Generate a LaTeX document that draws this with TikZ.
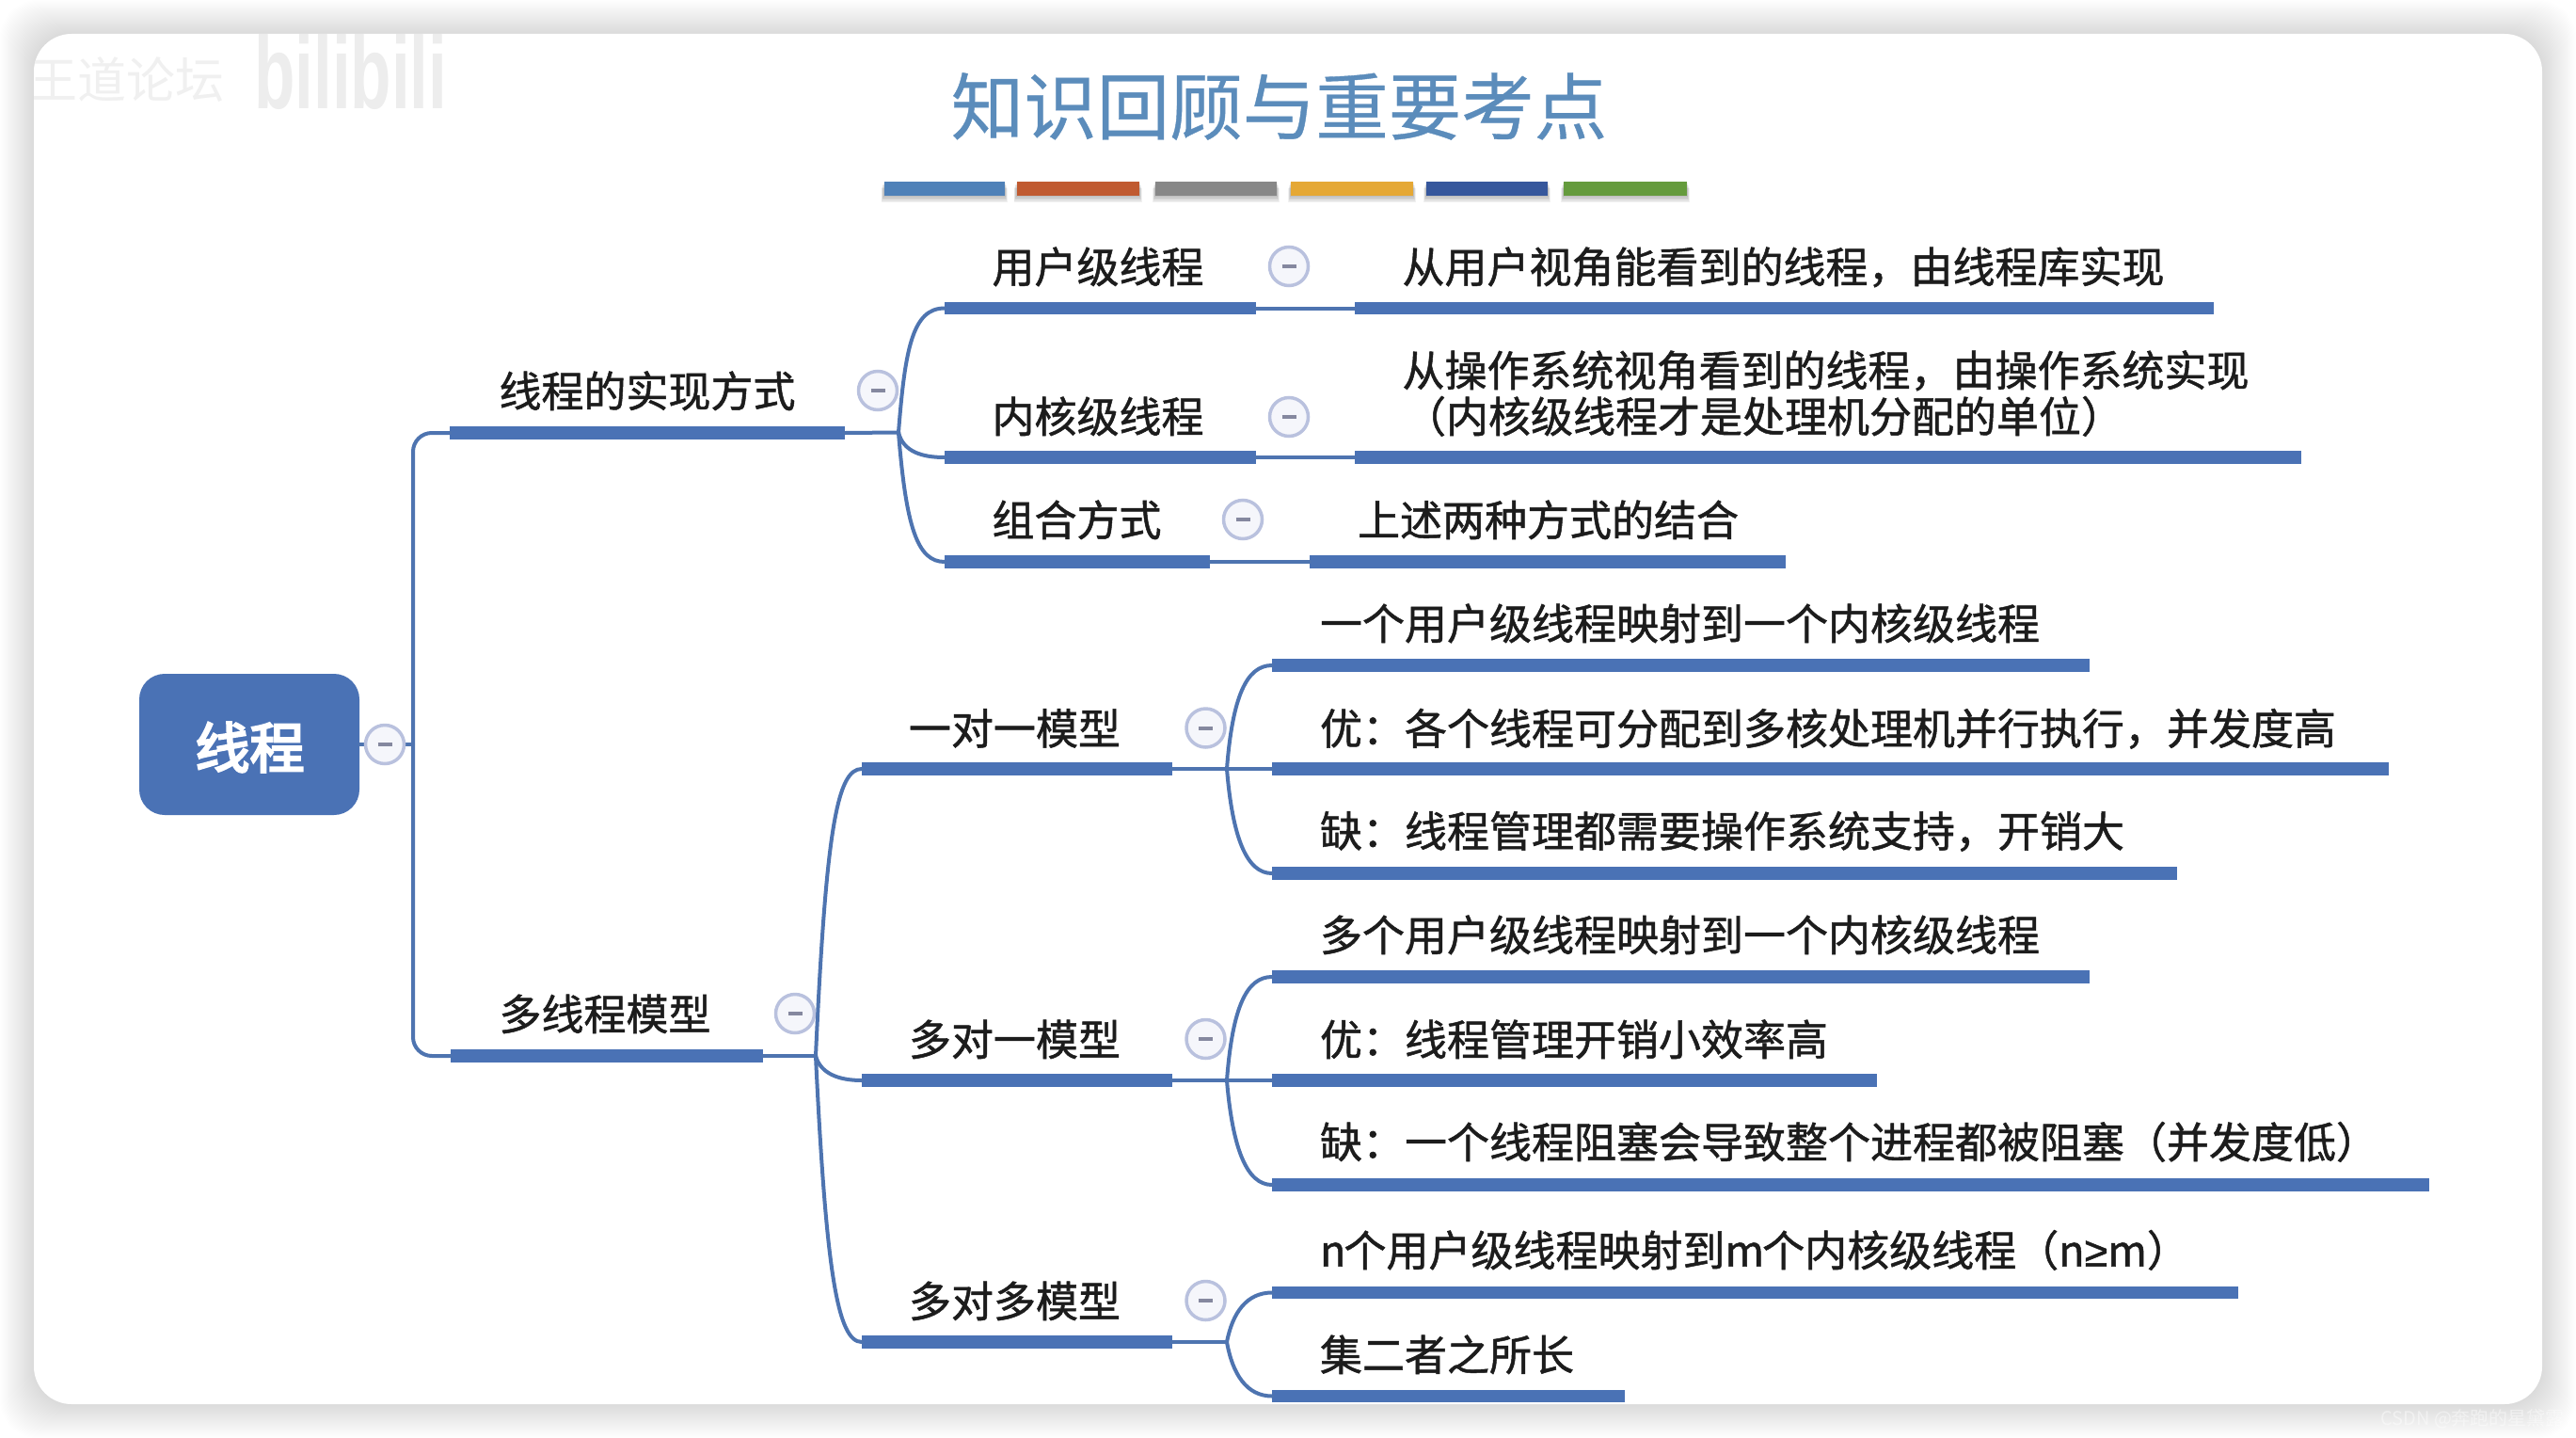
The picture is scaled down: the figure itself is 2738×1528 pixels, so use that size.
\documentclass[tikz,border=0pt]{standalone}
\usepackage{fontspec}
\setmainfont{Noto Sans CJK SC}[FakeBold=1.1]
\newfontfamily\rootfont{Noto Sans CJK SC}[FakeBold=4]
\newfontfamily\titlefont{Noto Sans CJK SC}[FakeBold=0.5]
\newfontfamily\plainfont{Noto Sans CJK SC}
\newfontfamily\wmfont{Liberation Sans}
\newfontfamily\gefont{Liberation Sans}[FakeBold=1.1]
\usetikzlibrary{calc}
\definecolor{mblue}{HTML}{4A72B5}
\definecolor{lblue}{HTML}{4E74B0}
\definecolor{ttlblue}{HTML}{5B8CBB}
\definecolor{txtk}{HTML}{1C1C1C}
\definecolor{ringc}{HTML}{B9C1DE}
\definecolor{ringf}{HTML}{F5F6FB}
\definecolor{dashc}{HTML}{85889F}
\definecolor{stripa}{HTML}{4F81B8}
\definecolor{stripb}{HTML}{C05A30}
\definecolor{stripc}{HTML}{878787}
\definecolor{stripd}{HTML}{E5A835}
\definecolor{stripe}{HTML}{36579C}
\definecolor{stripf}{HTML}{659B3D}
\tikzset{
  x=1pt,y=-1pt,
  barnode/.style={fill=mblue,draw=none,rectangle,inner sep=0pt,minimum height=13.5pt,anchor=west,outer sep=0pt},
  conn/.style={draw=lblue,line width=4pt,line cap=round},
  linetxt/.style={anchor=base west,inner sep=0pt,outer sep=0pt,yshift=-17.5pt,font=\fontsize{45pt}{50pt}\selectfont,text=txtk},
  ring/.style={circle,draw=ringc,fill=ringf,line width=3.5pt,minimum size=41pt,inner sep=0pt,outer sep=0pt},
  strip/.style={rectangle,inner sep=0pt,outer sep=0pt,minimum height=15pt,anchor=west}
}
\newcommand{\barn}[4]{%
  \pgfmathsetmacro{\bw}{#3-#2}%
  \node[barnode,minimum width=\bw pt] (#1) at (#2,#4) {};}
\newcommand{\ringn}[3]{%
  \node[ring] (#1) at (#2,#3) {};
  \draw[dashc,line width=4pt] ($(#1)+(-7.5,0)$) -- ($(#1)+(7.5,0)$);}
\newcommand{\stripn}[4]{%
  \foreach \s in {1,...,5}{\fill[black,opacity=0.055] (#1-\s*0.6,193+\s*1.4) rectangle (#2+\s*0.6,208+\s*1.4);}
  \pgfmathsetmacro{\sw}{#2-#1}%
  \node[strip,fill=#3,minimum width=\sw pt] (#4) at (#1,200.5) {};}
\begin{document}
\begin{tikzpicture}
\useasboundingbox (0,0) rectangle (2738,1528);
% shadow and card
\fill[white] (0,0) rectangle (2738,1528);
\foreach \i in {1,...,36}{
  \fill[black,opacity=0.0055,rounded corners=40pt] (36-\i,36-\i) rectangle (2702+\i,1492+\i);
}
\fill[white,rounded corners=40pt] (36,36) rectangle (2702,1492);
% watermarks
\begin{scope}
\clip[rounded corners=40pt] (36,36) rectangle (2702,1492);
\node[anchor=west,inner sep=0pt,text=black!6,font=\plainfont\fontsize{52pt}{56pt}\selectfont] (wmA) at (30,85) {王道论坛};
\node[anchor=west,inner sep=0pt,text=black!7,font=\wmfont\bfseries\fontsize{71pt}{75pt}\selectfont,yscale=1.55,transform shape] (wmB) at (270,76) {bilibili};
\end{scope}
\node[anchor=west,inner sep=0pt,text=white,text opacity=0.45,font=\plainfont\fontsize{20pt}{22pt}\selectfont] (wmC) at (2530,1508) {CSDN @奔跑的星黛露};
% title
\node[inner sep=0pt,text=ttlblue,font=\titlefont\fontsize{77.5pt}{80pt}\selectfont] (title) at (1359.5,113) {知识回顾与重要考点};
\stripn{939.5}{1068}{stripa}{s1}
\stripn{1080.5}{1211}{stripb}{s2}
\stripn{1228}{1357}{stripc}{s3}
\stripn{1372}{1502}{stripd}{s4}
\stripn{1516}{1645}{stripe}{s5}
\stripn{1662}{1793}{stripf}{s6}
% junction coordinates
\coordinate (jroot) at (439,791);
\coordinate (ja) at (955,459.5);
\coordinate (jb) at (867,1122);
\coordinate (jc) at (1304,817);
\coordinate (jd) at (1304,1148);
\coordinate (je) at (1304,1426);
% bars
\barn{implb}{478}{898}{460}
\barn{multb}{479}{811}{1122}
\barn{userb}{1004}{1335}{327.5}
\barn{userd}{1440}{2353}{327.5}
\barn{kernb}{1004}{1335}{486}
\barn{kernd}{1440}{2446}{486}
\barn{combb}{1004}{1286}{597}
\barn{combd}{1392}{1898}{597}
\barn{oob}{916}{1246}{817}
\barn{moob}{916}{1246}{1148}
\barn{mmb}{916}{1246}{1426}
\barn{ooa}{1352}{2221}{707}
\barn{oop}{1352}{2539}{817}
\barn{ooc}{1352}{2313.5}{928}
\barn{moa}{1352}{2221}{1038}
\barn{mop}{1352}{1995}{1148}
\barn{moc}{1352}{2582}{1259}
\barn{mma}{1352}{2379}{1373.5}
\barn{mmc}{1352}{1727}{1483.5}
% root node
\node[rectangle,rounded corners=27pt,fill=mblue,minimum width=234pt,minimum height=150pt,inner sep=0pt] (root) at (265,791) {};
\node[inner sep=0pt,text=white,font=\rootfont\fontsize{58pt}{60pt}\selectfont] (roottxt) at (265.5,794) {线程};
% connectors
\draw[conn] (root.east) -- (jroot);
\draw[conn,rounded corners=20pt] (implb.west) -| (jroot) |- (multb.west);
\draw[conn] (implb.east) -- (ja);
\draw[conn] (ja) .. controls (962,370) and (970,327.5) .. (userb.west);
\draw[conn] (ja) .. controls (960,480) and (980,486) .. (kernb.west);
\draw[conn] (ja) .. controls (963,560) and (975,597) .. (combb.west);
\draw[conn] (userb.east) -- (userd.west);
\draw[conn] (kernb.east) -- (kernd.west);
\draw[conn] (combb.east) -- (combd.west);
\draw[conn] (multb.east) -- (jb);
\draw[conn] (jb) .. controls (878,880) and (890,817) .. (oob.west);
\draw[conn] (jb) .. controls (872,1140) and (890,1148) .. (moob.west);
\draw[conn] (jb) .. controls (878,1350) and (890,1426) .. (mmb.west);
\draw[conn] (oob.east) -- (oop.west);
\draw[conn] (jc) .. controls (1310,740) and (1325,707) .. (ooa.west);
\draw[conn] (jc) .. controls (1310,890) and (1325,928) .. (ooc.west);
\draw[conn] (moob.east) -- (mop.west);
\draw[conn] (jd) .. controls (1310,1070) and (1325,1038) .. (moa.west);
\draw[conn] (jd) .. controls (1310,1220) and (1325,1259) .. (moc.west);
\draw[conn] (mmb.east) -- (je);
\draw[conn] (je) .. controls (1310,1395) and (1325,1373.5) .. (mma.west);
\draw[conn] (je) .. controls (1310,1460) and (1325,1483.5) .. (mmc.west);
% rings
\ringn{rroot}{409}{791}
\ringn{rimpl}{933}{415}
\ringn{rmult}{845}{1077}
\ringn{ruser}{1370}{283}
\ringn{rkern}{1370}{443}
\ringn{rcomb}{1321}{552}
\ringn{roo}{1281.5}{773.5}
\ringn{rmo}{1281.5}{1104}
\ringn{rmm}{1281.5}{1382}
% labels
\node[linetxt] (timpl) at (530.5,415) {线程的实现方式};
\node[linetxt] (tmult) at (530.5,1077) {多线程模型};
\node[linetxt] (tuser) at (1054.5,283) {用户级线程};
\node[linetxt] (tkern) at (1054.5,442) {内核级线程};
\node[linetxt] (tcomb) at (1054.5,552) {组合方式};
\node[linetxt] (duser) at (1490.5,283) {从用户视角能看到的线程，由线程库实现};
\node[linetxt] (dkerna) at (1490.5,393) {从操作系统视角看到的线程，由操作系统实现};
\node[linetxt] (dkernb) at (1492,442) {（内核级线程才是处理机分配的单位）};
\node[linetxt] (dcomb) at (1443,552) {上述两种方式的结合};
\node[linetxt] (too) at (966,773.5) {一对一模型};
\node[linetxt] (tmo) at (966,1104) {多对一模型};
\node[linetxt] (tmm) at (966,1382) {多对多模型};
\node[linetxt] (dooa) at (1403,662) {一个用户级线程映射到一个内核级线程};
\node[linetxt] (doop) at (1403,773.5) {优：各个线程可分配到多核处理机并行执行，并发度高};
\node[linetxt] (dooc) at (1403,882.5) {缺：线程管理都需要操作系统支持，开销大};
\node[linetxt] (dmoa) at (1403,993) {多个用户级线程映射到一个内核级线程};
\node[linetxt] (dmop) at (1403,1104) {优：线程管理开销小效率高};
\node[linetxt] (dmoc) at (1403,1213) {缺：一个线程阻塞会导致整个进程都被阻塞（并发度低）};
\node[linetxt] (dmma) at (1403,1328) {n\kern-2pt 个用户级线程映射到m\kern-2pt 个内核级线程（n{\gefont ≥}m）};
\node[linetxt] (dmmc) at (1403,1439) {集二者之所长};
\end{tikzpicture}
\end{document}
